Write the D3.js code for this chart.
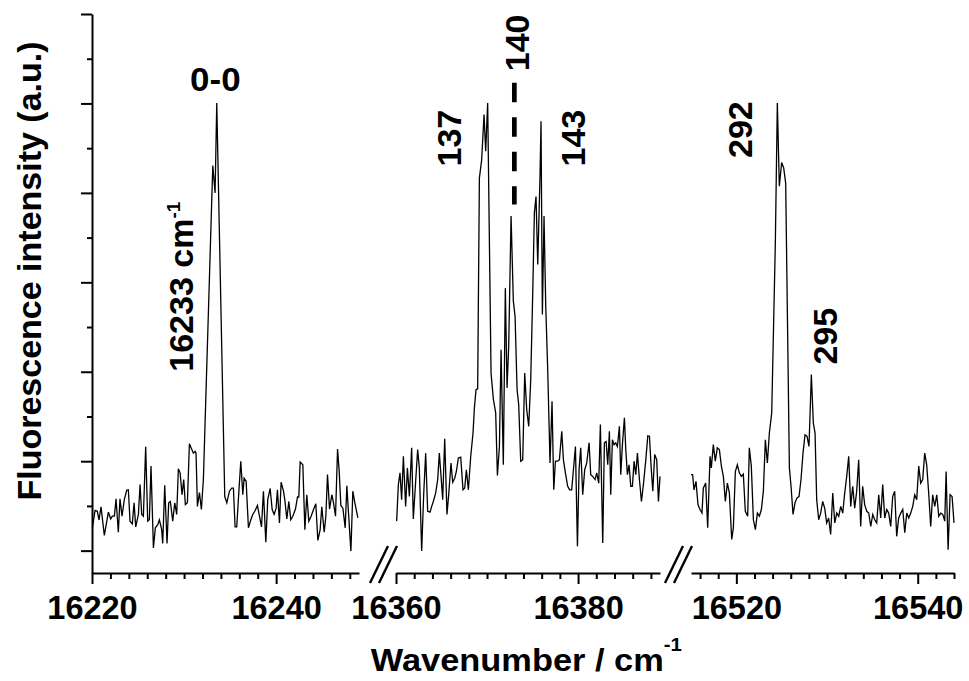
<!DOCTYPE html>
<html><head><meta charset="utf-8">
<script src="https://cdn.jsdelivr.net/npm/d3@7"></script>
<style>
body{margin:0;background:#fff}
svg text{font-family:"Liberation Sans",Arial,Helvetica,sans-serif;font-weight:bold;fill:#000}
</style></head>
<body><svg id="chart" width="969" height="681"></svg>
<script>
// Fluorescence excitation spectrum shown in three wavenumber windows (broken x axis).
// Each window: [wavenumber / cm-1, intensity (a.u.)]
const spec1 = [[16220.04,0.51],[16220.33,0.90],[16220.58,0.88],[16220.76,0.69],[16220.98,0.98],[16221.34,0.34],[16221.78,0.86],[16222.03,0.71],[16222.21,0.77],[16222.43,0.77],[16222.61,1.16],[16222.86,0.41],[16223.04,1.16],[16223.26,0.77],[16223.51,1.14],[16223.77,1.35],[16223.95,1.36],[16224.13,0.66],[16224.38,0.60],[16224.57,1.07],[16224.75,0.53],[16225.04,0.81],[16225.22,1.48],[16225.40,0.81],[16225.58,0.77],[16225.83,2.32],[16226.05,0.66],[16226.23,0.69],[16226.41,1.89],[16226.67,0.06],[16226.88,0.51],[16227.14,0.58],[16227.32,0.69],[16227.57,0.47],[16227.68,0.16],[16227.90,1.46],[16228.15,0.16],[16228.33,1.07],[16228.51,1.10],[16228.77,0.66],[16228.99,1.07],[16229.20,0.81],[16229.38,1.83],[16229.57,1.74],[16229.78,1.25],[16229.96,1.59],[16230.14,1.03],[16230.36,1.07],[16230.58,2.39],[16230.76,2.30],[16231.01,2.18],[16231.20,2.22],[16231.30,2.18],[16231.45,0.99],[16231.67,1.30],[16231.88,0.92],[16232.10,1.60],[16233.12,8.61],[16233.37,8.00],[16233.55,10.01],[16234.42,1.21],[16234.64,1.07],[16234.93,1.33],[16235.18,1.40],[16235.36,1.40],[16235.54,0.53],[16235.72,0.53],[16235.91,1.18],[16236.16,2.00],[16236.38,1.25],[16236.52,1.62],[16236.74,1.55],[16236.99,0.51],[16237.25,0.69],[16237.46,0.81],[16237.68,0.88],[16237.97,1.01],[16238.19,0.77],[16238.41,0.53],[16238.62,1.33],[16238.88,0.19],[16239.09,1.14],[16239.35,1.39],[16239.57,0.92],[16239.78,0.81],[16240.00,0.95],[16240.14,1.36],[16240.36,0.62],[16240.54,1.53],[16240.80,1.33],[16240.94,1.14],[16241.16,0.71],[16241.38,1.10],[16241.59,0.69],[16241.81,0.77],[16242.10,0.93],[16242.32,1.20],[16242.46,1.20],[16242.61,1.98],[16242.90,1.92],[16243.12,0.47],[16243.33,1.25],[16243.55,0.66],[16243.80,0.77],[16244.06,0.92],[16244.31,1.05],[16244.53,0.23],[16244.78,0.47],[16244.96,0.98],[16245.22,0.41],[16245.40,0.77],[16245.58,1.70],[16245.80,0.93],[16246.05,1.25],[16246.23,1.07],[16246.45,0.77],[16246.67,2.27],[16246.85,1.77],[16247.03,1.01],[16247.25,0.95],[16247.50,0.51],[16247.68,1.45],[16247.90,0.71],[16248.12,-0.01],[16248.33,1.33],[16248.55,1.07],[16248.88,0.73]];

const spec2 = [[16360.07,0.66],[16360.26,1.48],[16360.44,1.74],[16360.62,1.14],[16360.81,2.11],[16361.06,0.99],[16361.25,1.85],[16361.47,1.21],[16361.72,2.30],[16361.90,0.71],[16362.16,1.55],[16362.38,2.26],[16362.56,1.85],[16362.82,-0.01],[16363.04,1.25],[16363.26,2.18],[16363.48,0.88],[16363.74,0.86],[16363.92,0.99],[16364.10,1.10],[16364.36,1.29],[16364.58,1.59],[16364.76,2.18],[16364.95,1.66],[16365.13,1.14],[16365.35,2.50],[16365.60,0.81],[16365.82,1.33],[16366.04,1.96],[16366.23,1.53],[16366.45,1.62],[16366.63,1.77],[16366.85,2.07],[16367.11,2.09],[16367.36,1.36],[16367.55,1.40],[16367.73,1.81],[16367.95,1.36],[16368.21,2.11],[16368.46,2.63],[16368.61,3.19],[16368.79,3.60],[16368.97,3.62],[16369.16,8.33],[16369.41,8.74],[16369.67,9.75],[16369.85,8.93],[16370.07,10.01],[16370.44,3.97],[16370.70,3.38],[16370.95,3.08],[16371.14,1.68],[16371.36,2.33],[16371.54,4.49],[16371.79,1.92],[16372.01,5.87],[16372.20,3.64],[16372.38,4.57],[16372.64,7.48],[16372.89,5.58],[16373.08,5.24],[16373.30,3.60],[16373.48,3.26],[16373.70,2.00],[16373.92,2.03],[16374.14,3.97],[16374.36,3.15],[16374.58,2.78],[16374.80,3.82],[16375.02,5.76],[16375.20,7.55],[16375.38,7.92],[16375.57,6.40],[16375.82,8.37],[16375.93,9.60],[16376.08,5.28],[16376.26,7.48],[16376.45,5.46],[16376.67,4.01],[16376.92,1.96],[16377.14,3.34],[16377.33,1.36],[16377.51,2.00],[16377.73,2.00],[16377.95,2.03],[16378.21,2.67],[16378.39,2.03],[16378.61,1.74],[16378.86,1.44],[16379.08,1.36],[16379.30,1.36],[16379.49,1.81],[16379.71,2.33],[16379.93,0.10],[16380.11,1.81],[16380.29,2.30],[16380.51,1.25],[16380.73,1.81],[16380.95,1.96],[16381.21,2.41],[16381.39,1.70],[16381.61,1.66],[16381.87,1.59],[16382.05,1.74],[16382.27,1.51],[16382.45,2.82],[16382.71,0.17],[16382.89,2.41],[16383.08,2.44],[16383.26,1.92],[16383.44,2.67],[16383.59,1.25],[16383.77,2.48],[16383.96,2.37],[16384.14,2.41],[16384.32,2.33],[16384.54,2.78],[16384.69,1.70],[16384.87,2.37],[16385.09,2.97],[16385.24,2.26],[16385.42,1.70],[16385.60,1.92],[16385.79,1.44],[16385.97,1.44],[16386.15,2.00],[16386.34,1.70],[16386.52,2.18],[16386.74,1.59],[16386.96,1.10],[16387.18,1.48],[16387.44,2.03],[16387.66,2.57],[16387.84,2.56],[16388.02,1.89],[16388.21,1.33],[16388.42,2.15],[16388.64,2.03],[16388.83,1.10],[16389.00,1.66]];

const spec3 = [[16515.00,1.70],[16515.18,1.70],[16515.33,1.36],[16515.55,1.55],[16515.77,1.03],[16515.99,0.92],[16516.21,0.84],[16516.36,1.40],[16516.62,1.51],[16516.84,0.51],[16517.10,2.11],[16517.24,1.85],[16517.46,2.37],[16517.68,2.00],[16517.90,2.30],[16518.13,2.26],[16518.35,1.89],[16518.57,1.66],[16518.79,1.10],[16519.01,1.51],[16519.23,1.29],[16519.49,0.25],[16519.67,0.51],[16519.89,1.77],[16520.11,1.92],[16520.33,1.74],[16520.55,1.66],[16520.77,1.71],[16520.99,0.88],[16521.25,0.77],[16521.43,2.30],[16521.65,1.89],[16521.88,0.69],[16522.10,0.47],[16522.32,0.84],[16522.54,0.77],[16522.76,0.92],[16522.98,1.33],[16523.20,2.48],[16523.42,1.96],[16523.64,2.63],[16523.90,3.08],[16524.30,6.88],[16524.52,10.01],[16524.74,8.15],[16525.00,8.68],[16525.22,8.56],[16525.44,8.22],[16525.85,1.85],[16526.03,1.44],[16526.25,0.81],[16526.47,1.07],[16526.69,1.18],[16526.91,1.21],[16527.13,1.59],[16527.35,2.18],[16527.57,2.59],[16527.79,2.56],[16528.01,2.33],[16528.27,3.94],[16528.49,2.85],[16528.68,2.63],[16528.86,1.14],[16529.08,0.69],[16529.30,0.84],[16529.52,1.10],[16529.74,0.95],[16529.96,0.62],[16530.18,0.73],[16530.40,0.36],[16530.63,1.29],[16530.85,0.62],[16531.07,0.84],[16531.29,0.77],[16531.51,0.99],[16531.73,0.84],[16531.95,1.29],[16532.17,1.66],[16532.39,2.11],[16532.61,0.99],[16532.83,1.44],[16533.05,0.95],[16533.27,1.33],[16533.49,2.03],[16533.71,0.54],[16533.93,1.44],[16534.15,1.03],[16534.38,0.88],[16534.60,0.84],[16534.82,0.54],[16535.04,0.81],[16535.26,0.69],[16535.48,0.62],[16535.70,1.25],[16535.92,0.73],[16536.14,1.48],[16536.36,0.73],[16536.58,0.92],[16536.80,0.84],[16537.02,0.54],[16537.24,1.21],[16537.46,1.33],[16537.68,0.32],[16537.90,0.73],[16538.13,0.84],[16538.35,0.92],[16538.57,0.40],[16538.79,0.84],[16539.01,0.73],[16539.23,0.84],[16539.45,0.99],[16539.67,1.25],[16539.89,1.14],[16540.11,1.89],[16540.33,1.51],[16540.55,1.59],[16540.77,2.18],[16540.99,1.92],[16541.21,1.29],[16541.43,0.54],[16541.65,1.25],[16541.88,0.99],[16542.10,1.25],[16542.32,0.77],[16542.54,0.84],[16542.76,0.81],[16542.98,0.66],[16543.13,1.77],[16543.35,0.02],[16543.57,1.25],[16543.79,1.21],[16544.00,0.62]];

// Wavenumber windows and their labelled ticks
const windows = [[16220, 16249], [16360, 16389], [16515, 16544]];
const majorTicks = [[16220, 16240], [16360, 16380], [16520, 16540]];
const minorStep = 2;

// Intensity axis ticks (unlabelled)
const yDomain = [-0.5, 12];
const yMajor = [0, 2, 4, 6, 8, 10, 12];
const yMinor = [1, 3, 5, 7, 9, 11];

// Band labels: shift from the origin in cm-1, placed in data units of their window
const bandLabels = [
  {panel: 0, text: "0-0", x: 16233.4, y: 10.27, rotate: false},
  {panel: 0, text: "16233 cm", sup: "-1", x: 16231.0, y: 4.0, rotate: true},
  {panel: 1, text: "137", x: 16367.1, y: 8.59, rotate: true},
  {panel: 1, text: "140", x: 16374.65, y: 10.72, rotate: true},
  {panel: 1, text: "143", x: 16380.77, y: 8.59, rotate: true},
  {panel: 2, text: "292", x: 16521.69, y: 8.78, rotate: true},
  {panel: 2, text: "295", x: 16531.13, y: 4.16, rotate: true}
];
// Dashed marker under the "140" label
const marker140 = {panel: 1, x: 16373, y0: 10.46, y1: 7.74};

const series = [spec1, spec2, spec3];

// ---- layout ----
const svg = d3.select("#chart");
const FONT = '"Liberation Sans", Arial, Helvetica, sans-serif';
const axisY = 573, topY = 14, leftX = 92;
const panelRanges = [[92, 359], [396, 660], [691, 954]];

const y = d3.scaleLinear(yDomain, [axisY, topY]);
const xs = windows.map((d, i) => d3.scaleLinear(d, panelRanges[i]));

function styleAxis(g) {
  g.selectAll(".domain, .tick line").attr("stroke", "#000").attr("stroke-width", 2);
  g.attr("font-family", FONT).attr("font-weight", "bold");
}

// y axis
const gy = svg.append("g").attr("transform", `translate(${leftX},0)`);
gy.call(d3.axisLeft(y).tickValues(yMajor).tickSize(11).tickSizeOuter(0).tickFormat(""));
const gyMinor = svg.append("g").attr("transform", `translate(${leftX},0)`);
gyMinor.call(d3.axisLeft(y).tickValues(yMinor).tickSize(5).tickFormat(""));
gyMinor.select(".domain").remove();
styleAxis(gy); styleAxis(gyMinor);

// x axes, one per window
xs.forEach((x, i) => {
  const [lo, hi] = windows[i];
  const minors = d3.range(Math.ceil(lo / minorStep) * minorStep, hi + 0.001, minorStep)
    .filter(v => !majorTicks[i].includes(v));
  const gMin = svg.append("g").attr("transform", `translate(0,${axisY})`);
  gMin.call(d3.axisBottom(x).tickValues(minors).tickSize(6).tickSizeOuter(0).tickFormat(""));
  gMin.select(".domain").remove();
  styleAxis(gMin);
  const gMaj = svg.append("g").attr("transform", `translate(0,${axisY})`);
  gMaj.call(d3.axisBottom(x).tickValues(majorTicks[i]).tickSize(11).tickSizeOuter(0)
    .tickPadding(12).tickFormat(d3.format("d")));
  styleAxis(gMaj);
  gMaj.attr("font-size", 32.5);
  gMaj.selectAll("text").attr("fill", "#000");
});

// axis break marks "//" in the gaps before windows 2 and 3
[1, 2].forEach(i => {
  const s = panelRanges[i][0];
  [0, 9].forEach(off => {
    svg.append("line")
      .attr("x1", s - 26 + off).attr("y1", axisY + 10)
      .attr("x2", s - 8 + off).attr("y2", axisY - 27)
      .attr("stroke", "#000").attr("stroke-width", 2.4);
  });
});

// spectra
series.forEach((data, i) => {
  const line = d3.line().x(d => xs[i](d[0])).y(d => y(d[1]));
  svg.append("path").datum(data)
    .attr("d", line)
    .attr("fill", "none").attr("stroke", "#000")
    .attr("stroke-width", 1.3).attr("stroke-linejoin", "miter");
});

// dashed marker
svg.append("line")
  .attr("x1", xs[marker140.panel](marker140.x)).attr("x2", xs[marker140.panel](marker140.x))
  .attr("y1", y(marker140.y0)).attr("y2", y(marker140.y1))
  .attr("stroke", "#000").attr("stroke-width", 4.7)
  .attr("stroke-dasharray", "19.5,15");

// band labels
bandLabels.forEach(b => {
  const px = xs[b.panel](b.x), py = y(b.y);
  const t = svg.append("text")
    .attr("transform", b.rotate
      ? `translate(${px},${py}) rotate(-90)`
      : `translate(${px},${py}) scale(1.06,1)`)
    .attr("text-anchor", b.rotate ? "start" : "middle")
    .attr("font-size", b.rotate ? 34 : 33)
    .text(b.text);
  if (b.sup) t.append("tspan").attr("font-size", 19).attr("dy", -13).text(b.sup);
});

// axis titles
svg.append("text")
  .attr("transform", "translate(41,271) rotate(-90)")
  .attr("text-anchor", "middle").attr("font-size", 34)
  .text("Fluorescence intensity (a.u.)");

const xt = svg.append("text")
  .attr("transform", "translate(370.7,670.7) scale(1.075,1)")
  .attr("font-size", 32)
  .text("Wavenumber / cm");
xt.append("tspan").attr("font-size", 19).attr("dy", -20).text("-1");
</script>
</body></html>
